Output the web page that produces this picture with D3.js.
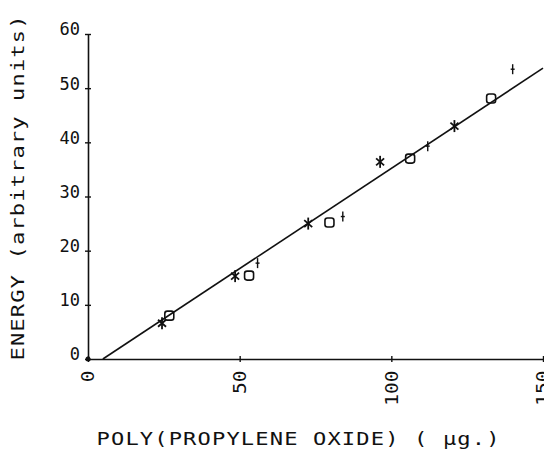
<!DOCTYPE html>
<html>
<head>
<meta charset="utf-8">
<script src="https://cdn.jsdelivr.net/npm/d3@7"></script>
<style>
  body { margin: 0; background: #fff; }
  svg { display: block; }
  text { font-family: "DejaVu Sans Mono", "Liberation Mono", monospace; fill: #111; }
</style>
</head>
<body>
<svg id="chart" width="544" height="452"></svg>
<script>
// tick labels
const xTicks = [0, 50, 100, 150];
const yTicks = [0, 10, 20, 30, 40, 50, 60];

// series (µg, energy)
const starX = [24.4, 48.5, 72.6, 96.3, 120.8];
const starY = [6.6, 15.3, 25.0, 36.4, 43.0];
const boxX = [26.8, 53.1, 79.6, 106.2, 132.9];
const boxY = [8.0, 15.4, 25.2, 37.0, 48.1];
const plusX = [55.9, 84.0, 112.0, 140.0];
const plusY = [17.7, 26.3, 39.3, 53.5];
const originX = [0];
const originY = [0];

// fitted straight line
const fitX = [4.9, 150];
const fitY = [0, 53.7];

const svg = d3.select("#chart");
const x = d3.scaleLinear().domain([0, 150]).range([88, 543]);
const y = d3.scaleLinear().domain([0, 60]).range([359, 34]);

// axes
const xAxis = svg.append("g")
	.attr("transform", "translate(0," + y(0) + ")")
	.call(d3.axisBottom(x).tickValues(xTicks).tickSize(3).tickSizeOuter(0).tickFormat(d3.format("d")));
xAxis.select(".domain").attr("stroke", "#111").attr("stroke-width", 1.6);
xAxis.selectAll(".tick line").attr("y1", -3).attr("y2", 3).attr("stroke", "#111").attr("stroke-width", 1.4);
xAxis.selectAll(".tick text")
	.attr("transform", "rotate(-90) scale(1.15,1)")
	.attr("x", -10).attr("y", 0).attr("dy", "0.35em")
	.attr("text-anchor", "end")
	.style("font-size", "17px");

const yAxis = svg.append("g")
	.attr("transform", "translate(" + x(0) + ",0)")
	.call(d3.axisLeft(y).tickValues(yTicks).tickSize(3).tickSizeOuter(0).tickFormat(d3.format("d")));
yAxis.select(".domain").attr("stroke", "#111").attr("stroke-width", 1.6);
yAxis.selectAll(".tick line").attr("x1", -3).attr("x2", 3).attr("stroke", "#111").attr("stroke-width", 1.4);
yAxis.selectAll(".tick text")
	.attr("x", -8).attr("dy", "0.05em")
	.attr("text-anchor", "end")
	.style("font-size", "17px");

// fit line
svg.append("path")
	.datum(fitX.map((v, i) => [v, fitY[i]]))
	.attr("d", d3.line().x(d => x(d[0])).y(d => y(d[1])))
	.attr("fill", "none").attr("stroke", "#111").attr("stroke-width", 1.6);

// asterisks
const star = svg.append("g").attr("stroke", "#111").attr("stroke-width", 1.8);
starX.forEach((v, i) => {
	const g = star.append("g").attr("transform", "translate(" + x(v) + "," + y(starY[i]) + ")");
	g.append("line").attr("x1", 0).attr("y1", -6).attr("x2", 0).attr("y2", 6);
	g.append("line").attr("x1", -4).attr("y1", -3.5).attr("x2", 4).attr("y2", 3.5);
	g.append("line").attr("x1", -4).attr("y1", 3.5).attr("x2", 4).attr("y2", -3.5);
});

// open boxes
svg.append("g").selectAll("rect")
	.data(boxX.map((v, i) => [v, boxY[i]]))
	.join("rect")
	.attr("x", d => x(d[0]) - 4.5).attr("y", d => y(d[1]) - 4.5)
	.attr("width", 9).attr("height", 9).attr("rx", 2.5)
	.attr("fill", "none").attr("stroke", "#111").attr("stroke-width", 1.6);

// daggers
const plus = svg.append("g").attr("stroke", "#111").attr("stroke-width", 1.4);
plusX.forEach((v, i) => {
	const g = plus.append("g").attr("transform", "translate(" + x(v) + "," + y(plusY[i]) + ")");
	g.append("line").attr("x1", 0).attr("y1", -5).attr("x2", 0).attr("y2", 5);
	g.append("line").attr("x1", -2).attr("y1", 0).attr("x2", 2).attr("y2", 0);
});

// origin blob
svg.append("g").selectAll("circle")
	.data(originX.map((v, i) => [v, originY[i]]))
	.join("circle")
	.attr("cx", d => x(d[0])).attr("cy", d => y(d[1])).attr("r", 2.5).attr("fill", "#111");

// axis titles, stretched sideways like the plotter lettering
svg.append("text")
	.attr("transform", "translate(298,445) scale(1.3,1)")
	.attr("text-anchor", "middle")
	.attr("textLength", 403 / 1.3).attr("lengthAdjust", "spacing")
	.style("font-size", "17px")
	.text("POLY(PROPYLENE OXIDE)  ( \u00b5g.)");

svg.append("text")
	.attr("transform", "translate(24,188) rotate(-90) scale(1.3,1)")
	.attr("text-anchor", "middle")
	.attr("textLength", 345 / 1.3).attr("lengthAdjust", "spacing")
	.style("font-size", "17px")
	.text("ENERGY (arbitrary units)");
</script>
</body>
</html>
